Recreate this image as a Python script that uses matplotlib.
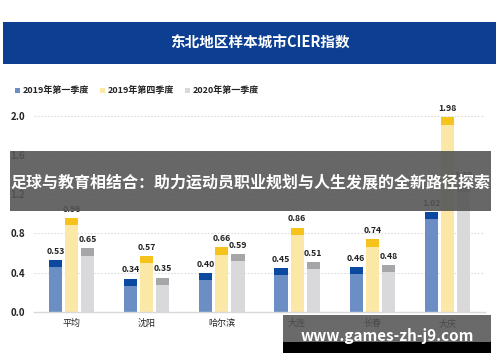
import matplotlib
matplotlib.use('Agg')
import matplotlib.pyplot as plt
from matplotlib.patches import Rectangle
import numpy as np

plt.rcParams['font.family'] = ['Noto Sans CJK SC', 'DejaVu Sans']

# data
cities = ['平均', '沈阳', '哈尔滨', '大连', '长春', '大庆']
series = ['2019年第一季度', '2019年第四季度', '2020年第一季度']
q1_2019 = [0.53, 0.34, 0.40, 0.45, 0.46, 1.02]
q4_2019 = [0.96, 0.57, 0.66, 0.86, 0.74, 1.98]
q1_2020 = [0.65, 0.35, 0.59, 0.51, 0.48, 1.30]
yticks = [0.0, 0.4, 0.8, 1.2, 1.6, 2.0]

light = ['#6b8fc4', '#fbe7a6', '#d9d9db']
dark = ['#0b48a0', '#f6c31c', '#a6a6a8']

W, H = 500, 362
fig = plt.figure(figsize=(W / 100, H / 100), dpi=100)


def fx(px):
    return px / W


def fy(py):
    return 1 - py / H


# header band
fig.patches.append(Rectangle((fx(3), fy(64)), fx(493), 42 / H, transform=fig.transFigure,
                             facecolor='#0c3f92', edgecolor='none'))
fig.text(fx(260), fy(43), '东北地区样本城市CIER指数', color='white', fontsize=10.5,
         fontweight='bold', ha='center', va='center')

# legend
leg_x = [15, 100, 185]
for i, name in enumerate(series):
    fig.patches.append(Rectangle((fx(leg_x[i]), fy(92.5)), fx(4.5), 4.5 / H, transform=fig.transFigure,
                                 facecolor=light[i], edgecolor='none'))
    fig.text(fx(leg_x[i] + 8), fy(90), name, fontsize=6.5, fontweight='bold',
             color='#222222', ha='left', va='center')

# plot area
ymax = 2.05
top_px = 312 - ymax * 98.25
ax = fig.add_axes([fx(34), fy(312), fx(451), (312 - top_px) / H])
x = np.arange(len(cities))
w = 0.175
off = 0.213
cap = 0.075
for i, vals in enumerate([q1_2019, q4_2019, q1_2020]):
    xs = x + (i - 1) * off
    ax.bar(xs, vals, width=w, color=light[i], zorder=2)
    ax.bar(xs, [cap] * len(vals), bottom=np.array(vals) - cap, width=w, color=dark[i], zorder=3)
    for xx, v in zip(xs, vals):
        ax.annotate(f'{v:.2f}', (xx, v), xytext=(0, 3), textcoords='offset points',
                    ha='center', va='bottom', fontsize=6.3, fontweight='bold',
                    color='#222222', annotation_clip=False)

ax.set_xlim(-0.5, len(cities) - 0.5)
ax.set_ylim(0, ymax)
ax.set_yticks(yticks)
ax.set_yticklabels([f'{t:.1f}' for t in yticks], fontsize=7, fontweight='bold', color='#222222')
ax.set_xticks(x)
ax.set_xticklabels(cities, fontsize=6.5, color='#222222')
ax.tick_params(axis='x', length=0, pad=5)
ax.tick_params(axis='y', length=0, pad=17)
for lab in ax.get_yticklabels():
    lab.set_horizontalalignment('left')
for t in yticks[1:]:
    ax.axhline(t, color='#dcdcdc', lw=0.8, ls=(0, (1.5, 1.5)), zorder=1)
for s in ['top', 'right', 'left']:
    ax.spines[s].set_visible(False)
ax.spines['bottom'].set_color('#d8d8d8')
ax.spines['bottom'].set_linewidth(1)

# overlay banner
fig.patches.append(Rectangle((fx(10), fy(211)), fx(481), 60 / H, transform=fig.transFigure,
                             facecolor='#565656', alpha=0.9, edgecolor='none', zorder=10))
fig.text(fx(250), fy(182), '足球与教育相结合：助力运动员职业规划与人生发展的全新路径探索',
         color='white', fontsize=11.5, fontweight='bold', ha='center', va='center', zorder=11)

# watermark
fig.patches.append(Rectangle((fx(283), fy(342)), fx(208), 27 / H, transform=fig.transFigure,
                             facecolor='#505050', alpha=0.85, edgecolor='none', zorder=10))
fig.patches.append(Rectangle((fx(283), fy(353)), fx(208), 11 / H, transform=fig.transFigure,
                             facecolor='black', edgecolor='none', zorder=10))
fig.text(fx(387), fy(336), 'www.games-zh-j9.com', color='white', fontsize=11,
         fontweight='bold', ha='center', va='center', zorder=11)

fig.savefig('out.png', dpi=100)
